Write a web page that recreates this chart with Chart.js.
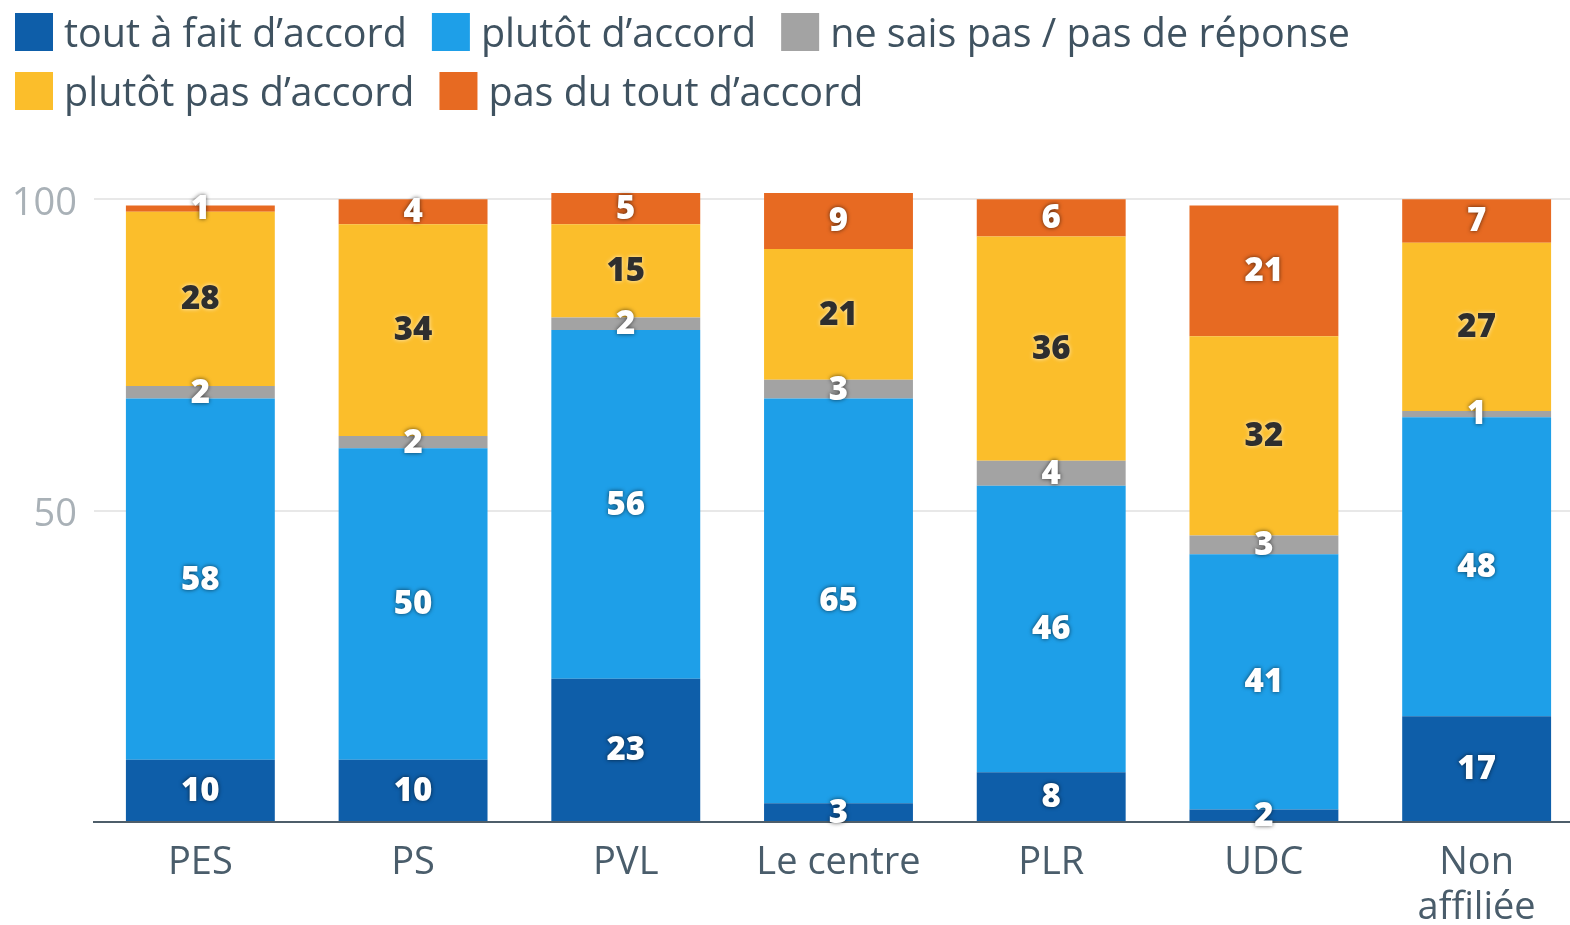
<!DOCTYPE html>
<html>
<head>
<meta charset="utf-8">
<script src="https://cdn.jsdelivr.net/npm/chart.js@4"></script>
<style>
html,body{margin:0;padding:0;overflow:hidden;background:#fff;}
#wrap{position:absolute;left:0;top:0;width:1583px;height:925px;}
</style>
</head>
<body>
<div id="wrap"><canvas id="c" width="1583" height="925"></canvas></div>
<script>
const categories = ["PES", "PS", "PVL", "Le centre", "PLR", "UDC", ["Non", "affiliée"]];
const seriesNames = ["tout à fait d’accord", "plutôt d’accord", "ne sais pas / pas de réponse", "plutôt pas d’accord", "pas du tout d’accord"];
const toutAFait = [10, 10, 23, 3, 8, 2, 17];
const plutotAccord = [58, 50, 56, 65, 46, 41, 48];
const neSaisPas = [2, 2, 2, 3, 4, 3, 1];
const plutotPas = [28, 34, 15, 21, 36, 32, 27];
const pasDuTout = [1, 4, 5, 9, 6, 21, 7];
const yTicks = [0, 50, 100];

const colors = ["#0e5ea9", "#1e9fe8", "#a3a3a3", "#fbbe2b", "#e76a22"];
const darkLabel = [false, false, false, true, false];
const FONT = "'Open Sans', 'Noto Sans', sans-serif";

const legendPlugin = {
  id: 'customLegend',
  afterDraw(chart) {
    const ctx = chart.ctx;
    ctx.save();
    ctx.font = "39.5px " + FONT;
    ctx.textBaseline = 'alphabetic';
    ctx.textAlign = 'left';
    const box = 38, gap = 11, itemGap = 25, rowH = 59, maxW = 1570;
    let x = 15, y = 13;
    chart.data.datasets.forEach((ds) => {
      const w = box + gap + ctx.measureText(ds.label).width;
      if (x + w > maxW) { x = 15; y += rowH; }
      ctx.fillStyle = ds.backgroundColor;
      ctx.fillRect(x, y, box, box);
      ctx.fillStyle = "#3f5260";
      ctx.fillText(ds.label, x + box + gap, y + 34);
      x += w + itemGap;
    });
    ctx.restore();
  }
};

const labelPlugin = {
  id: 'segLabels',
  afterDatasetsDraw(chart) {
    const ctx = chart.ctx;
    ctx.save();
    ctx.font = "800 33px " + FONT;
    ctx.textAlign = 'center';
    ctx.textBaseline = 'middle';
    chart.data.datasets.forEach((ds, di) => {
      const meta = chart.getDatasetMeta(di);
      meta.data.forEach((bar, i) => {
        const v = ds.data[i];
        const cy = (bar.y + bar.base) / 2;
        if (darkLabel[di]) {
          ctx.shadowColor = "rgba(255,255,255,0.75)";
          ctx.shadowBlur = 4;
          ctx.fillStyle = "#2e2e2e";
        } else {
          ctx.shadowColor = "rgba(0,0,0,0.65)";
          ctx.shadowBlur = 4;
          ctx.fillStyle = "#ffffff";
        }
        ctx.fillText(String(v), bar.x, cy + 1);
      });
    });
    ctx.restore();
  }
};

const seriesData = [toutAFait, plutotAccord, neSaisPas, plutotPas, pasDuTout];

new Chart(document.getElementById('c'), {
  type: 'bar',
  data: {
    labels: categories,
    datasets: seriesData.map((d, i) => ({
      label: seriesNames[i],
      data: d,
      backgroundColor: colors[i],
      borderWidth: 0,
      categoryPercentage: 1,
      barPercentage: 0.7
    }))
  },
  options: {
    responsive: false,
    animation: false,
    devicePixelRatio: 1,
    layout: { padding: { top: 193, left: 0, right: 0, bottom: 0 } },
    plugins: {
      legend: { display: false },
      tooltip: { enabled: false }
    },
    scales: {
      x: {
        stacked: true,
        grid: { display: false, drawTicks: false },
        border: { display: true, color: "#4e5e6a", width: 2 },
        ticks: {
          color: "#4a5d6b",
          font: { family: FONT, size: 38 },
          padding: 18,
          maxRotation: 0,
          autoSkip: false
        },
        afterFit(scale) { scale.height = 103; }
      },
      y: {
        stacked: true,
        min: 0,
        max: 101,
        afterBuildTicks(scale) { scale.ticks = yTicks.map(v => ({ value: v })); },
        afterFit(scale) { scale.width = 94; },
        grid: {
          color: (c) => c.tick && c.tick.value === 0 ? 'rgba(0,0,0,0)' : '#e8e8e8',
          lineWidth: 2,
          drawTicks: false
        },
        border: { display: false },
        ticks: {
          color: "#a9b1b7",
          font: { family: FONT, size: 38 },
          padding: 17,
          labelOffset: 5,
          callback: (v) => v === 0 ? '' : String(v)
        }
      }
    }
  },
  plugins: [legendPlugin, labelPlugin]
});
</script>
</body>
</html>
